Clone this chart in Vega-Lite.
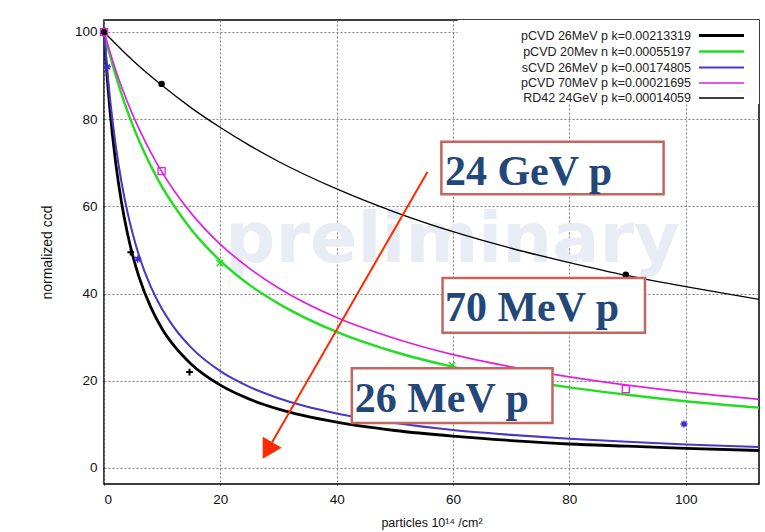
{
  "$schema": "https://vega.github.io/schema/vega-lite/v6.json",
  "width": 655,
  "height": 464,
  "autosize": {"type": "none"},
  "padding": {"left": 104, "top": 20, "right": 6, "bottom": 48},
  "background": "white",
  "datasets": {
    "curves": [
      {"s": "pCVD 26MeV p k=0.00213319", "x": 0, "y": 100},
      {"s": "pCVD 26MeV p k=0.00213319", "x": 0.5, "y": 90.4},
      {"s": "pCVD 26MeV p k=0.00213319", "x": 1, "y": 82.4},
      {"s": "pCVD 26MeV p k=0.00213319", "x": 2, "y": 70.1},
      {"s": "pCVD 26MeV p k=0.00213319", "x": 3, "y": 61.0},
      {"s": "pCVD 26MeV p k=0.00213319", "x": 4, "y": 54.0},
      {"s": "pCVD 26MeV p k=0.00213319", "x": 5, "y": 48.4},
      {"s": "pCVD 26MeV p k=0.00213319", "x": 6, "y": 43.9},
      {"s": "pCVD 26MeV p k=0.00213319", "x": 8, "y": 37.0},
      {"s": "pCVD 26MeV p k=0.00213319", "x": 10, "y": 31.9},
      {"s": "pCVD 26MeV p k=0.00213319", "x": 12, "y": 28.1},
      {"s": "pCVD 26MeV p k=0.00213319", "x": 15, "y": 23.8},
      {"s": "pCVD 26MeV p k=0.00213319", "x": 20, "y": 19.0},
      {"s": "pCVD 26MeV p k=0.00213319", "x": 25, "y": 15.8},
      {"s": "pCVD 26MeV p k=0.00213319", "x": 30, "y": 13.5},
      {"s": "pCVD 26MeV p k=0.00213319", "x": 40, "y": 10.5},
      {"s": "pCVD 26MeV p k=0.00213319", "x": 50, "y": 8.6},
      {"s": "pCVD 26MeV p k=0.00213319", "x": 60, "y": 7.3},
      {"s": "pCVD 26MeV p k=0.00213319", "x": 70, "y": 6.3},
      {"s": "pCVD 26MeV p k=0.00213319", "x": 80, "y": 5.5},
      {"s": "pCVD 26MeV p k=0.00213319", "x": 90, "y": 5.0},
      {"s": "pCVD 26MeV p k=0.00213319", "x": 100, "y": 4.5},
      {"s": "pCVD 26MeV p k=0.00213319", "x": 113, "y": 4.0},

      {"s": "pCVD 20Mev n k=0.00055197", "x": 0, "y": 100},
      {"s": "pCVD 20Mev n k=0.00055197", "x": 1, "y": 94.8},
      {"s": "pCVD 20Mev n k=0.00055197", "x": 2, "y": 90.1},
      {"s": "pCVD 20Mev n k=0.00055197", "x": 3, "y": 85.8},
      {"s": "pCVD 20Mev n k=0.00055197", "x": 5, "y": 78.4},
      {"s": "pCVD 20Mev n k=0.00055197", "x": 8, "y": 69.4},
      {"s": "pCVD 20Mev n k=0.00055197", "x": 10, "y": 64.4},
      {"s": "pCVD 20Mev n k=0.00055197", "x": 12, "y": 60.2},
      {"s": "pCVD 20Mev n k=0.00055197", "x": 15, "y": 54.7},
      {"s": "pCVD 20Mev n k=0.00055197", "x": 20, "y": 47.5},
      {"s": "pCVD 20Mev n k=0.00055197", "x": 25, "y": 42.0},
      {"s": "pCVD 20Mev n k=0.00055197", "x": 30, "y": 37.7},
      {"s": "pCVD 20Mev n k=0.00055197", "x": 40, "y": 31.2},
      {"s": "pCVD 20Mev n k=0.00055197", "x": 50, "y": 26.6},
      {"s": "pCVD 20Mev n k=0.00055197", "x": 60, "y": 23.2},
      {"s": "pCVD 20Mev n k=0.00055197", "x": 70, "y": 20.6},
      {"s": "pCVD 20Mev n k=0.00055197", "x": 80, "y": 18.5},
      {"s": "pCVD 20Mev n k=0.00055197", "x": 90, "y": 16.8},
      {"s": "pCVD 20Mev n k=0.00055197", "x": 100, "y": 15.3},
      {"s": "pCVD 20Mev n k=0.00055197", "x": 113, "y": 13.8},

      {"s": "sCVD 26MeV p k=0.00174805", "x": 0, "y": 100},
      {"s": "sCVD 26MeV p k=0.00174805", "x": 0.5, "y": 92.0},
      {"s": "sCVD 26MeV p k=0.00174805", "x": 1, "y": 85.1},
      {"s": "sCVD 26MeV p k=0.00174805", "x": 2, "y": 74.1},
      {"s": "sCVD 26MeV p k=0.00174805", "x": 3, "y": 65.6},
      {"s": "sCVD 26MeV p k=0.00174805", "x": 4, "y": 58.9},
      {"s": "sCVD 26MeV p k=0.00174805", "x": 5, "y": 53.4},
      {"s": "sCVD 26MeV p k=0.00174805", "x": 6, "y": 48.8},
      {"s": "sCVD 26MeV p k=0.00174805", "x": 8, "y": 41.7},
      {"s": "sCVD 26MeV p k=0.00174805", "x": 10, "y": 36.4},
      {"s": "sCVD 26MeV p k=0.00174805", "x": 12, "y": 32.3},
      {"s": "sCVD 26MeV p k=0.00174805", "x": 15, "y": 27.6},
      {"s": "sCVD 26MeV p k=0.00174805", "x": 20, "y": 22.2},
      {"s": "sCVD 26MeV p k=0.00174805", "x": 25, "y": 18.6},
      {"s": "sCVD 26MeV p k=0.00174805", "x": 30, "y": 16.0},
      {"s": "sCVD 26MeV p k=0.00174805", "x": 40, "y": 12.5},
      {"s": "sCVD 26MeV p k=0.00174805", "x": 50, "y": 10.3},
      {"s": "sCVD 26MeV p k=0.00174805", "x": 60, "y": 8.7},
      {"s": "sCVD 26MeV p k=0.00174805", "x": 70, "y": 7.6},
      {"s": "sCVD 26MeV p k=0.00174805", "x": 80, "y": 6.7},
      {"s": "sCVD 26MeV p k=0.00174805", "x": 90, "y": 6.0},
      {"s": "sCVD 26MeV p k=0.00174805", "x": 100, "y": 5.4},
      {"s": "sCVD 26MeV p k=0.00174805", "x": 113, "y": 4.8},

      {"s": "pCVD 70MeV p k=0.00021695", "x": 0, "y": 100},
      {"s": "pCVD 70MeV p k=0.00021695", "x": 1, "y": 95.5},
      {"s": "pCVD 70MeV p k=0.00021695", "x": 2, "y": 91.3},
      {"s": "pCVD 70MeV p k=0.00021695", "x": 3, "y": 87.5},
      {"s": "pCVD 70MeV p k=0.00021695", "x": 5, "y": 80.8},
      {"s": "pCVD 70MeV p k=0.00021695", "x": 8, "y": 72.5},
      {"s": "pCVD 70MeV p k=0.00021695", "x": 10, "y": 67.8},
      {"s": "pCVD 70MeV p k=0.00021695", "x": 12, "y": 63.7},
      {"s": "pCVD 70MeV p k=0.00021695", "x": 15, "y": 58.4},
      {"s": "pCVD 70MeV p k=0.00021695", "x": 20, "y": 51.3},
      {"s": "pCVD 70MeV p k=0.00021695", "x": 25, "y": 45.8},
      {"s": "pCVD 70MeV p k=0.00021695", "x": 30, "y": 41.3},
      {"s": "pCVD 70MeV p k=0.00021695", "x": 40, "y": 34.5},
      {"s": "pCVD 70MeV p k=0.00021695", "x": 50, "y": 29.7},
      {"s": "pCVD 70MeV p k=0.00021695", "x": 60, "y": 26.0},
      {"s": "pCVD 70MeV p k=0.00021695", "x": 70, "y": 23.2},
      {"s": "pCVD 70MeV p k=0.00021695", "x": 80, "y": 20.9},
      {"s": "pCVD 70MeV p k=0.00021695", "x": 90, "y": 19.0},
      {"s": "pCVD 70MeV p k=0.00021695", "x": 100, "y": 17.4},
      {"s": "pCVD 70MeV p k=0.00021695", "x": 113, "y": 15.7},

      {"s": "RD42 24GeV p k=0.00014059", "x": 0, "y": 100},
      {"s": "RD42 24GeV p k=0.00014059", "x": 5, "y": 93.4},
      {"s": "RD42 24GeV p k=0.00014059", "x": 10, "y": 87.7},
      {"s": "RD42 24GeV p k=0.00014059", "x": 15, "y": 82.6},
      {"s": "RD42 24GeV p k=0.00014059", "x": 20, "y": 78.1},
      {"s": "RD42 24GeV p k=0.00014059", "x": 25, "y": 74.0},
      {"s": "RD42 24GeV p k=0.00014059", "x": 30, "y": 70.3},
      {"s": "RD42 24GeV p k=0.00014059", "x": 40, "y": 64.0},
      {"s": "RD42 24GeV p k=0.00014059", "x": 50, "y": 58.7},
      {"s": "RD42 24GeV p k=0.00014059", "x": 60, "y": 54.2},
      {"s": "RD42 24GeV p k=0.00014059", "x": 70, "y": 50.4},
      {"s": "RD42 24GeV p k=0.00014059", "x": 80, "y": 47.1},
      {"s": "RD42 24GeV p k=0.00014059", "x": 90, "y": 44.1},
      {"s": "RD42 24GeV p k=0.00014059", "x": 100, "y": 41.6},
      {"s": "RD42 24GeV p k=0.00014059", "x": 113, "y": 38.6}
    ],
    "pts": [
      {"s": "RD42", "x": 0, "y": 100},
      {"s": "RD42", "x": 9.9, "y": 88.1},
      {"s": "RD42", "x": 89.7, "y": 44.3},
      {"s": "p70", "x": 0, "y": 100},
      {"s": "p70", "x": 9.9, "y": 68.1},
      {"s": "p70", "x": 89.7, "y": 18.1},
      {"s": "n20", "x": 19.9, "y": 47.0},
      {"s": "n20", "x": 59.8, "y": 23.6},
      {"s": "s26", "x": 0.6, "y": 92.0},
      {"s": "s26", "x": 5.8, "y": 47.9},
      {"s": "s26", "x": 99.7, "y": 10.1},
      {"s": "p26", "x": 4.6, "y": 49.5},
      {"s": "p26", "x": 14.7, "y": 22.0}
    ]
  },
  "layer": [
    {
      "data": {"values": [{}]},
      "mark": {"type": "text", "text": "preliminary", "font": "DejaVu Sans", "fontWeight": "bold", "fontSize": 70, "color": "#e8ecf4", "align": "center", "baseline": "alphabetic"},
      "encoding": {
        "x": {"datum": 59.9, "type": "quantitative", "scale": {"domain": [0, 112.6], "nice": false, "zero": false}},
        "y": {"datum": 47.2, "type": "quantitative", "scale": {"domain": [-3.67, 102.75], "nice": false, "zero": false}}
      }
    },
    {
      "data": {"values": [{}]},
      "mark": {"type": "rect", "fill": "white"},
      "encoding": {"x": {"datum": 60.8}, "x2": {"datum": 112.6}, "y": {"datum": 102.75}, "y2": {"datum": 83.5}}
    },
    {
      "data": {"name": "curves"},
      "mark": {"type": "line", "interpolate": "monotone", "clip": true},
      "encoding": {
        "x": {"field": "x", "type": "quantitative",
              "axis": {"values": [0, 20, 40, 60, 80, 100], "grid": true, "title": "particles 10¹⁴ /cm²", "titleFontSize": 12.5, "labelPadding": 7, "titlePadding": 11}},
        "y": {"field": "y", "type": "quantitative",
              "axis": {"values": [0, 20, 40, 60, 80, 100], "grid": true, "title": "normalized ccd", "titleFontSize": 14, "labelPadding": 6, "titlePadding": 20}},
        "color": {"field": "s", "type": "nominal",
                  "scale": {"domain": ["pCVD 26MeV p k=0.00213319", "pCVD 20Mev n k=0.00055197", "sCVD 26MeV p k=0.00174805", "pCVD 70MeV p k=0.00021695", "RD42 24GeV p k=0.00014059"],
                            "range": ["#000000", "#22dd22", "#4a36c8", "#e020e0", "#000000"]},
                  "legend": {"orient": "none", "legendX": 608.5, "legendY": 6.5, "title": null, "symbolType": "M-3,0L3,0", "symbolSize": 225, "symbolStrokeWidth": 1.8, "labelAlign": "right", "labelOffset": -39.5, "labelFont": "Liberation Sans", "labelFontSize": 12.5, "labelColor": "#222", "rowPadding": 0, "labelLimit": 400, "padding": 0}},
        "strokeWidth": {"field": "s", "type": "nominal",
                  "scale": {"domain": ["pCVD 26MeV p k=0.00213319", "pCVD 20Mev n k=0.00055197", "sCVD 26MeV p k=0.00174805", "pCVD 70MeV p k=0.00021695", "RD42 24GeV p k=0.00014059"],
                            "range": [2.8, 1.3, 1.3, 1.3, 1.0]},
                  "legend": null}
      }
    },
    {
      "data": {"name": "pts"},
      "transform": [{"filter": "datum.s === 'RD42'"}],
      "mark": {"type": "point", "shape": "circle", "filled": true, "color": "black", "size": 42, "opacity": 1},
      "encoding": {"x": {"field": "x", "type": "quantitative"}, "y": {"field": "y", "type": "quantitative"}}
    },
    {
      "data": {"name": "pts"},
      "transform": [{"filter": "datum.s === 'p70'"}],
      "mark": {"type": "point", "shape": "square", "filled": false, "color": "#e020e0", "size": 50, "strokeWidth": 1.3, "opacity": 1},
      "encoding": {"x": {"field": "x", "type": "quantitative"}, "y": {"field": "y", "type": "quantitative"}}
    },
    {
      "data": {"name": "pts"},
      "transform": [{"filter": "datum.s === 'n20'"}],
      "mark": {"type": "point", "shape": "M-1,-1L1,1M-1,1L1,-1", "filled": false, "color": "#22dd22", "size": 40, "strokeWidth": 1.5, "opacity": 1},
      "encoding": {"x": {"field": "x", "type": "quantitative"}, "y": {"field": "y", "type": "quantitative"}}
    },
    {
      "data": {"name": "pts"},
      "transform": [{"filter": "datum.s === 's26'"}],
      "mark": {"type": "point", "shape": "M-1,0L1,0M0,-1L0,1M-0.7,-0.7L0.7,0.7M-0.7,0.7L0.7,-0.7", "filled": false, "color": "#3a2ad8", "size": 50, "strokeWidth": 1.4, "opacity": 1},
      "encoding": {"x": {"field": "x", "type": "quantitative"}, "y": {"field": "y", "type": "quantitative"}}
    },
    {
      "data": {"name": "pts"},
      "transform": [{"filter": "datum.s === 'p26'"}],
      "mark": {"type": "point", "shape": "M-1,0L1,0M0,-1L0,1", "filled": false, "color": "black", "size": 45, "strokeWidth": 2, "opacity": 1},
      "encoding": {"x": {"field": "x", "type": "quantitative"}, "y": {"field": "y", "type": "quantitative"}}
    },
    {
      "data": {"values": [{}]},
      "mark": {"type": "rect", "fill": "white", "stroke": "#c4655e", "strokeWidth": 2.5},
      "encoding": {"x": {"datum": 58.0}, "x2": {"datum": 96.2}, "y": {"datum": 74.8}, "y2": {"datum": 62.8}}
    },
    {
      "data": {"values": [{}]},
      "mark": {"type": "rect", "fill": "white", "stroke": "#c4655e", "strokeWidth": 2.5},
      "encoding": {"x": {"datum": 58.2}, "x2": {"datum": 93.0}, "y": {"datum": 43.6}, "y2": {"datum": 31.0}}
    },
    {
      "data": {"values": [{}]},
      "mark": {"type": "rect", "fill": "white", "stroke": "#c4655e", "strokeWidth": 2.5},
      "encoding": {"x": {"datum": 42.6}, "x2": {"datum": 77.1}, "y": {"datum": 22.9}, "y2": {"datum": 10.3}}
    },
    {
      "data": {"values": [{}]},
      "mark": {"type": "text", "text": "24 GeV p", "font": "Liberation Serif", "fontWeight": "bold", "fontSize": 42, "color": "#24477a", "align": "left", "baseline": "alphabetic"},
      "encoding": {"x": {"datum": 58.6}, "y": {"datum": 64.9}}
    },
    {
      "data": {"values": [{}]},
      "mark": {"type": "text", "text": "70 MeV p", "font": "Liberation Serif", "fontWeight": "bold", "fontSize": 42, "color": "#24477a", "align": "left", "baseline": "alphabetic"},
      "encoding": {"x": {"datum": 58.6}, "y": {"datum": 33.6}}
    },
    {
      "data": {"values": [{}]},
      "mark": {"type": "text", "text": "26 MeV p", "font": "Liberation Serif", "fontWeight": "bold", "fontSize": 42, "color": "#24477a", "align": "left", "baseline": "alphabetic"},
      "encoding": {"x": {"datum": 43.1}, "y": {"datum": 12.9}}
    },
    {
      "data": {"values": [{}]},
      "mark": {"type": "rule", "color": "#ff2a00", "strokeWidth": 2},
      "encoding": {"x": {"datum": 55.6}, "y": {"datum": 67.9}, "x2": {"datum": 28.8}, "y2": {"datum": 5.7}}
    },
    {
      "data": {"values": [{}]},
      "mark": {"type": "point", "shape": "triangle-down", "filled": true, "color": "#ff2a00", "size": 480, "angle": 30, "opacity": 1},
      "encoding": {"x": {"datum": 28.1}, "y": {"datum": 4.0}}
    }
  ],
  "config": {
    "font": "Liberation Sans",
    "view": {"stroke": "#000000", "strokeWidth": 1.5},
    "axis": {
      "grid": true, "gridColor": "#808080", "gridDash": [2, 2], "gridWidth": 1, "gridOpacity": 1,
      "domain": false, "ticks": true, "tickColor": "#000000", "tickSize": 1, "tickWidth": 1,
      "labelFont": "Liberation Sans", "labelFontSize": 13.5, "labelColor": "#111111",
      "titleFont": "Liberation Sans", "titleFontWeight": "normal", "titleColor": "#111111"
    }
  }
}
